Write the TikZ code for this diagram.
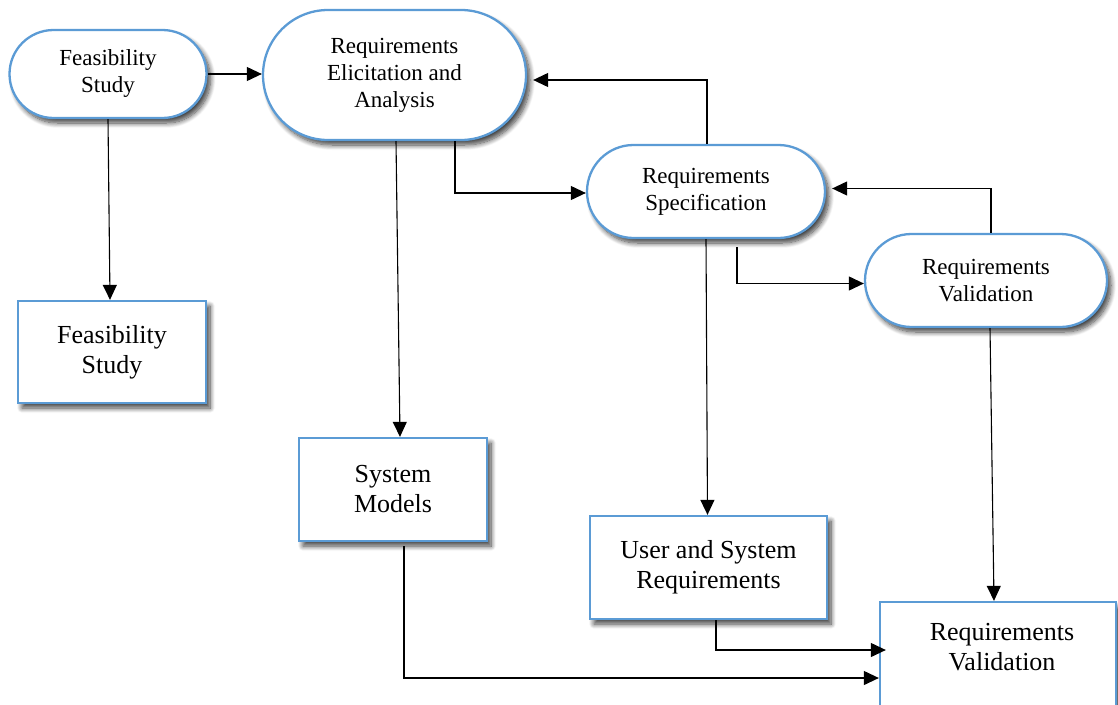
\documentclass[tikz,border=0pt]{standalone}
\usepackage{fontspec}
\setmainfont{Liberation Serif}
\usetikzlibrary{shapes.misc,arrows.meta,calc,shadows.blur}
\definecolor{nodeblue}{RGB}{91,155,213}
\tikzset{
  base/.style={draw=nodeblue, line width=2.3pt, fill=white, align=center,
    blur shadow={shadow xshift=4pt, shadow yshift=-5pt, shadow blur radius=5pt, shadow blur steps=10, shadow opacity=75},
    inner sep=0pt},
  pill/.style={base, rounded rectangle, font=\fontsize{23}{27}\selectfont},
  boxnode/.style={base, rectangle, font=\fontsize{26}{30}\selectfont},
  arr/.style={line width=1.1pt, -{Triangle[length=15pt,width=14pt]}},
}
\begin{document}
\begin{tikzpicture}[x=1pt,y=-1pt]
\useasboundingbox (0,0) rectangle (1118,704);
% rounded process nodes
\node[pill, minimum width=197pt, minimum height=88pt] (fr) at (108,74) {Feasibility\\Study};
\node[pill, minimum width=263pt, minimum height=130pt] (elic) at (394.5,75) {Requirements\\Elicitation and\\Analysis};
\node[pill, minimum width=238pt, minimum height=93pt] (spec) at (706,191.5) {Requirements\\Specification};
\node[pill, minimum width=242pt, minimum height=93pt] (valr) at (986,280.5) {Requirements\\Validation};
% document boxes
\node[boxnode, minimum width=188pt, minimum height=102pt] (fb) at (112,352) {Feasibility\\Study};
\node[boxnode, minimum width=188pt, minimum height=103pt] (sm) at (393,489.5) {System\\Models};
\node[boxnode, minimum width=237pt, minimum height=103pt] (us) at (708.5,567.5) {User and System\\Requirements};
\node[boxnode, minimum width=236pt, minimum height=110pt] (rv) at (998,657) {};
\node[font=\fontsize{26}{30}\selectfont, align=center, inner sep=0pt] (rvt) at (1002,647) {Requirements\\Validation};
% connectors
\draw[arr] (fr.east) -- (elic.west |- fr.east);
\draw[arr] (fr.south) -- ($(fb.north)+(-2,0)$);
\draw[arr] ($(elic.south)+(1.5,0)$) -- ($(sm.north)+(7,0)$);
\draw[arr] ($(elic.south)+(60.5,0)$) |- ($(spec.west)+(0,1.5)$);
\draw[arr] ($(spec.north)+(1,0)$) |- ($(elic.east)+(6,5)$);
\draw[arr] (spec.south) -- ($(us.north)+(-1,0)$);
\draw[arr] ($(spec.south)+(31,8)$) |- ($(valr.west)+(0,3)$);
\draw[arr] ($(valr.north)+(5,0)$) |- ($(spec.east)+(6,-3)$);
\draw[arr] ($(valr.south)+(4,0)$) -- ($(rv.north)+(-4,0)$);
\draw[arr] ($(us.south)+(7.5,0)$) |- ($(rv.west)+(7,-7)$);
\draw[arr] ($(sm.south)+(11,4)$) |- ($(rv.west)+(0,21)$);
\end{tikzpicture}
\end{document}
